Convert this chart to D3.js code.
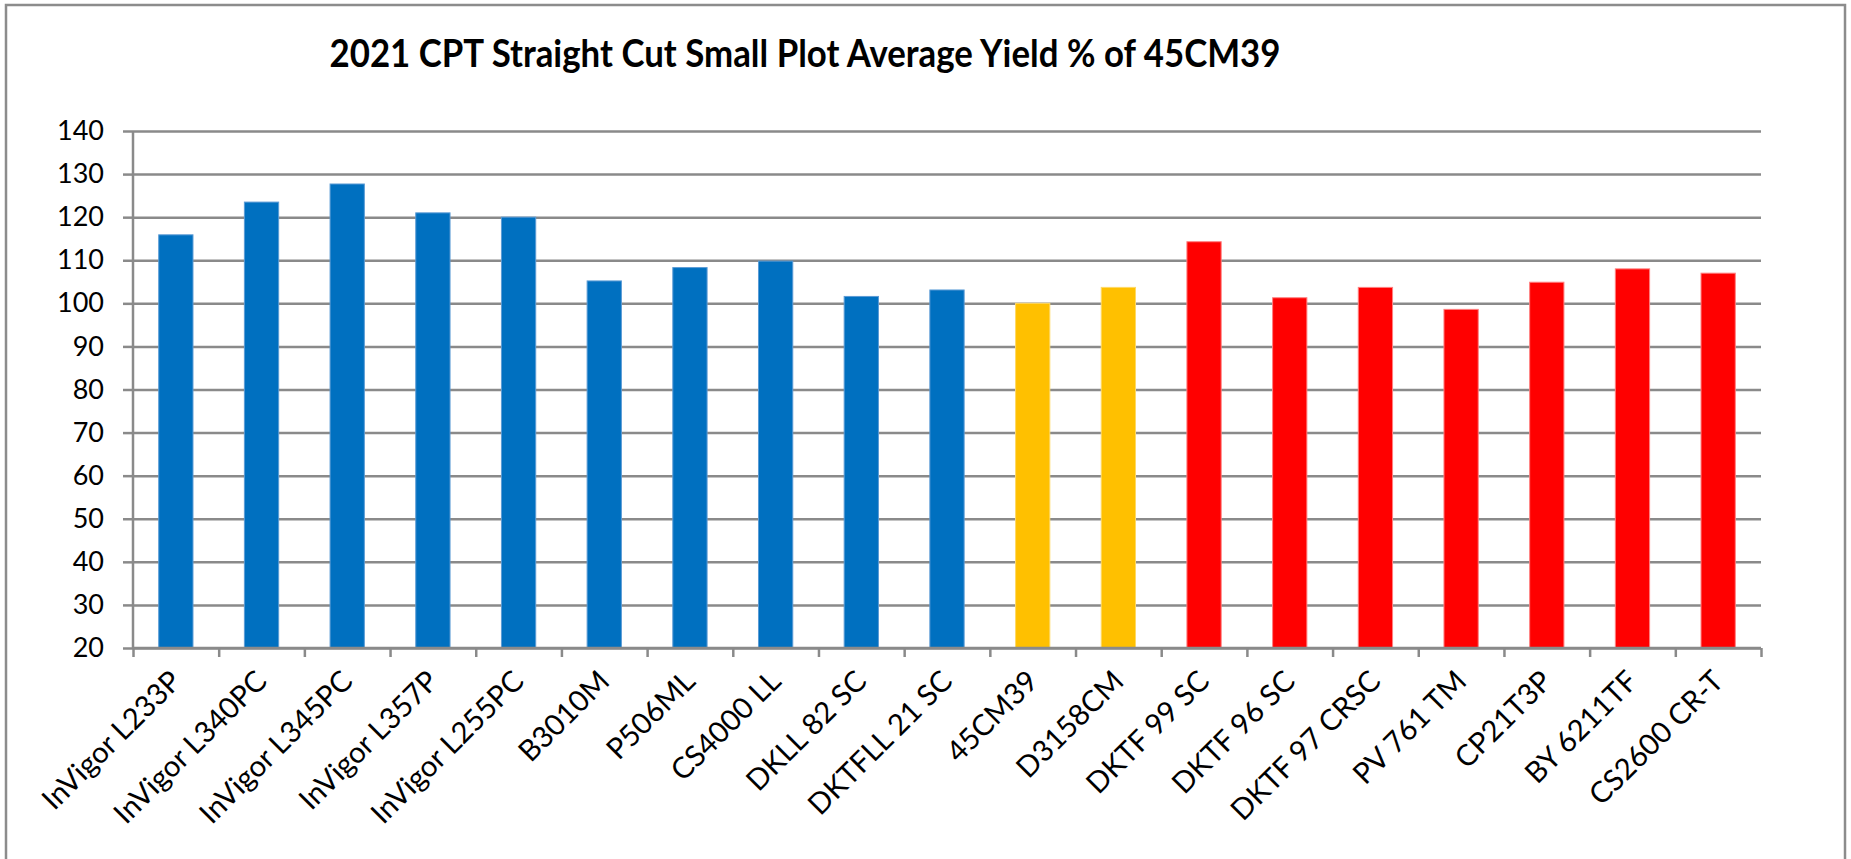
<!DOCTYPE html>
<html>
<head>
<meta charset="utf-8">
<script src="https://cdn.jsdelivr.net/npm/d3@7"></script>
<style>
  html, body { margin: 0; padding: 0; background: #fff; }
  svg { display: block; }
  text { font-family: Lato, "Open Sans", "Noto Sans", sans-serif; fill: #000; }
</style>
</head>
<body>
<svg id="chart" width="1851" height="859"></svg>
<script>
const titleText = "2021 CPT Straight Cut Small Plot Average Yield % of 45CM39";
const categories = ["InVigor L233P","InVigor L340PC","InVigor L345PC","InVigor L357P","InVigor L255PC",
  "B3010M","P506ML","CS4000 LL","DKLL 82 SC","DKTFLL 21 SC","45CM39","D3158CM",
  "DKTF 99 SC","DKTF 96 SC","DKTF 97 CRSC","PV 761 TM","CP21T3P","BY 6211TF","CS2600 CR-T"];
const values = [115.9,123.5,127.7,121.0,120.0,105.2,108.3,109.8,101.6,103.1,100.0,103.7,
  114.3,101.3,103.7,98.6,104.9,108.0,107.0];
const groups = ["g1","g1","g1","g1","g1","g1","g1","g1","g1","g1","g2","g2",
  "g3","g3","g3","g3","g3","g3","g3"];
const groupNames = ["g1","g2","g3"];
const groupColors = ["#0070C0","#FFC000","#FF0000"];
const groupEdges = ["#5b9bd5","#ffd966","#ff8080"];
const yTicks = [20,30,40,50,60,70,80,90,100,110,120,130,140];

const svg = d3.select("#chart");
const L = 133, R = 1761, T = 131, B = 648;

// outer frame
svg.append("rect").attr("x", 6).attr("y", 5).attr("width", 1839).attr("height", 900)
  .attr("fill", "#fff").attr("stroke", "#8c8c8c").attr("stroke-width", 2.5);

const x = d3.scaleBand().domain(categories).range([L, R]).paddingInner(0.6).paddingOuter(0.3);
const xb = d3.scaleLinear().domain([0, categories.length]).range([L, R]);
const y = d3.scaleLinear().domain([20, 140]).range([B, T]);
const color = d3.scaleOrdinal().domain(groupNames).range(groupColors);
const edge = d3.scaleOrdinal().domain(groupNames).range(groupEdges);

// gridlines
const grid = svg.append("g").attr("transform", `translate(${L},0)`)
  .call(d3.axisLeft(y).tickValues(yTicks).tickSize(-(R - L)).tickFormat(""));
grid.select(".domain").remove();
grid.selectAll("line").attr("stroke", "#8a8a8a").attr("stroke-width", 2.5);

// y axis
const yAx = svg.append("g").attr("transform", `translate(${L},0)`)
  .call(d3.axisLeft(y).tickValues(yTicks).tickSize(10).tickPadding(19));
yAx.select(".domain").attr("stroke", "#8a8a8a").attr("stroke-width", 2.5).attr("d", `M-0,${T}V${B + 1}`);
yAx.selectAll("line").attr("stroke", "#8a8a8a").attr("stroke-width", 2.5);
yAx.selectAll("text").style("font-size", "29px").attr("fill", "#000");

// bars
svg.append("g").selectAll("rect").data(categories).join("rect")
  .attr("x", d => x(d))
  .attr("width", x.bandwidth())
  .attr("y", (d, i) => y(values[i]))
  .attr("height", (d, i) => y(20) - y(values[i]))
  .attr("fill", (d, i) => color(groups[i]))
  .attr("stroke", (d, i) => edge(groups[i]))
  .attr("stroke-width", 1);

// x axis
const xAx = svg.append("g").attr("transform", `translate(0,${B})`)
  .call(d3.axisBottom(xb).tickValues(d3.range(categories.length + 1)).tickSize(9).tickFormat(""));
xAx.select(".domain").attr("stroke", "#8a8a8a").attr("stroke-width", 2.5).attr("d", `M${L},0H${R}`);
xAx.selectAll("line").attr("stroke", "#8a8a8a").attr("stroke-width", 2.5);

// x labels
const xl = svg.append("g").selectAll("text").data(categories).join("text")
  .attr("text-anchor", "end")
  .attr("transform", d => `translate(${x(d) + x.bandwidth() / 2 + 7},${B + 35}) rotate(-45)`)
  .style("font-size", "30px")
  .text(d => d);

// title
const title = svg.append("text").attr("x", 805).attr("y", 67).attr("text-anchor", "middle")
  .style("font-size", "36px").style("font-weight", "bold").text(titleText);

// fit font sizes to measured widths of the reference
function fit(sel, target, base) {
  const w = sel.node().getComputedTextLength();
  return base * target / w;
}
const tSize = fit(title, 951, 36);
title.style("font-size", (tSize * 1.07) + "px")
  .attr("textLength", 951).attr("lengthAdjust", "spacingAndGlyphs");
const yNode = yAx.selectAll("text").filter(d => d === 140);
const ySize = fit(yNode, 47, 29);
yAx.selectAll("text").style("font-size", ySize + "px");
const xSize = fit(xl.filter((d, i) => i === 0), 182, 30);
xl.style("font-size", xSize + "px");
</script>
</body>
</html>
